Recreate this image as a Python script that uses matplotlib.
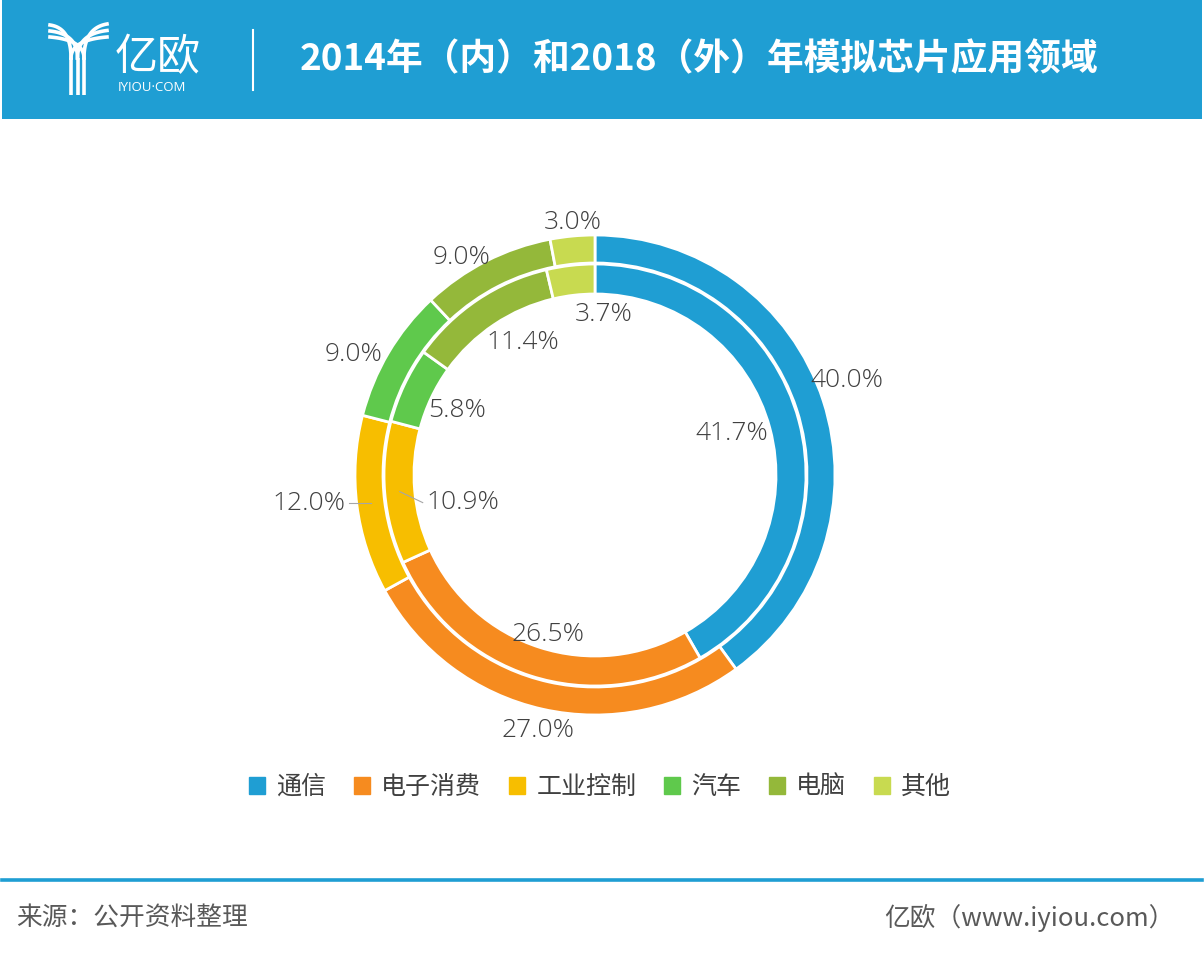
import numpy as np
import matplotlib
matplotlib.use("Agg")
import matplotlib.pyplot as plt

plt.rcParams['font.family'] = ['Noto Sans CJK SC', 'DejaVu Sans']

categories = ['通信', '电子消费', '工业控制', '汽车', '电脑', '其他']
share_2014 = [41.7, 26.5, 10.9, 5.8, 11.4, 3.7]   # inner ring
share_2018 = [40.0, 27.0, 12.0, 9.0, 9.0, 3.0]    # outer ring
colors = ['#1F9ED3', '#F68B1F', '#F7BE00', '#5FC94C', '#94B83A', '#C8DA50']

title = '2014年（内）和2018（外）年模拟芯片应用领域'
source = '来源：公开资料整理'
site = '亿欧（www.iyiou.com）'

W, H = 1204, 958
BLUE = '#1F9ED3'
fig = plt.figure(figsize=(W / 100, H / 100), dpi=100)
fig.patch.set_facecolor('white')

# overlay in pixel coordinates for header / footer
bg = fig.add_axes([0, 0, 1, 1])
bg.set_xlim(0, W); bg.set_ylim(H, 0); bg.axis('off')
bg.add_patch(plt.Rectangle((2, 0), W - 4, 119, color=BLUE, lw=0))

# logo: stylised Y with three stripes
for i in range(3):
    xs = 71 + 6.5 * i
    bg.plot([xs, xs], [95, 58], color='white', lw=2.6, solid_capstyle='butt')
    t = np.linspace(0, 1, 30)
    p0 = np.array([50, 25 + 6 * i]); p1 = np.array([xs, 28 + 6 * i]); p2 = np.array([xs, 58])
    c = ((1 - t) ** 2)[:, None] * p0 + (2 * (1 - t) * t)[:, None] * p1 + (t ** 2)[:, None] * p2
    bg.plot(c[:, 0], c[:, 1], color='white', lw=2.6)
    q0 = np.array([107, 24 + 6.5 * (2 - i)]); q1 = np.array([xs, 28 + 6 * (2 - i)]); q2 = np.array([xs, 58])
    c = ((1 - t) ** 2)[:, None] * q0 + (2 * (1 - t) * t)[:, None] * q1 + (t ** 2)[:, None] * q2
    bg.plot(c[:, 0], c[:, 1], color='white', lw=2.6)
bg.text(115, 58, '亿欧', color='white', fontsize=31, fontweight='light', va='center', ha='left')
bg.text(118, 87, 'IYIOU·COM', color='white', fontsize=9.5, va='center', ha='left',
        family=['Open Sans', 'DejaVu Sans'])
bg.plot([253, 253], [30, 90], color='white', lw=1.5)
bg.text(300, 60, title, color='white', fontsize=26.5, fontweight='bold', va='center', ha='left')

# footer
bg.plot([2, W - 2], [880, 880], color=BLUE, lw=2.6)
bg.text(16, 918, source, color='#595959', fontsize=18.5, va='center', ha='left')
bg.text(1175, 918, site, color='#595959', fontsize=18.5, va='center', ha='right')

# donut axes, 1 data unit = 1 pixel, centre at (595, 475)
cx, cy, half = 595, 475, 300
ax = fig.add_axes([(cx - half) / W, (H - cy - half) / H, 2 * half / W, 2 * half / H])
ax.set_xlim(-half, half); ax.set_ylim(-half, half); ax.axis('off')

R_out, w_out = 240, 28
R_in, w_in = 211, 30
ax.pie(share_2018, radius=R_out, colors=colors, startangle=90, counterclock=False,
       wedgeprops=dict(width=w_out, edgecolor='white', linewidth=2))
ax.pie(share_2014, radius=R_in, colors=colors, startangle=90, counterclock=False,
       wedgeprops=dict(width=w_in, edgecolor='white', linewidth=2))
ax.set_xlim(-half, half); ax.set_ylim(-half, half)

lab = dict(fontsize=19, color='#404040', family=['Open Sans', 'DejaVu Sans'], fontweight='light')

def mid_angle(vals, i):
    return np.deg2rad(90 - (sum(vals[:i]) + vals[i] / 2) * 3.6)

# outer labels
nudge_out = {'通信': (3, 14), '汽车': (-16, -13), '电脑': (-14, -16), '其他': (2, -8)}
for i, v in enumerate(share_2018):
    a = mid_angle(share_2018, i)
    if categories[i] == '工业控制':
        r0 = R_out - w_out / 2
        x0, y0 = r0 * np.cos(a), r0 * np.sin(a)
        ax.plot([x0, x0 - 22], [y0, y0], color='#A6A6A6', lw=0.8)
        ax.text(x0 - 25, y0, f'{v:.1f}%', ha='right', va='center', **lab)
        continue
    r = 262
    dx, dy = nudge_out.get(categories[i], (0, 0))
    ax.text(r * np.cos(a) + dx, r * np.sin(a) + dy, f'{v:.1f}%', ha='center', va='center', **lab)

# inner labels
nudge_in = {'其他': (26, 10), '电脑': (12, 6), '电子消费': (0, -15), '通信': (-10, 2)}
for i, v in enumerate(share_2014):
    a = mid_angle(share_2014, i)
    if categories[i] == '工业控制':
        r0 = R_in - w_in / 2
        x0, y0 = r0 * np.cos(a), r0 * np.sin(a)
        ax.plot([x0, x0 + 23], [y0, y0 - 11], color='#A6A6A6', lw=0.8)
        ax.text(x0 + 27, y0 - 11, f'{v:.1f}%', ha='left', va='center', **lab)
        continue
    r = 152
    dx, dy = nudge_in.get(categories[i], (0, 0))
    ax.text(r * np.cos(a) + dx, r * np.sin(a) + dy, f'{v:.1f}%', ha='center', va='center', **lab)

# legend
handles = [plt.Rectangle((0, 0), 1, 1, color=c) for c in colors]
fig.legend(handles, categories, loc='center', bbox_to_anchor=(600 / W, 1 - 787 / H),
           ncol=6, frameon=False, fontsize=18, handlelength=0.65, handleheight=0.65,
           handletextpad=0.45, columnspacing=1.1, labelcolor='#404040')

fig.savefig('out.png', dpi=100, facecolor='white')
